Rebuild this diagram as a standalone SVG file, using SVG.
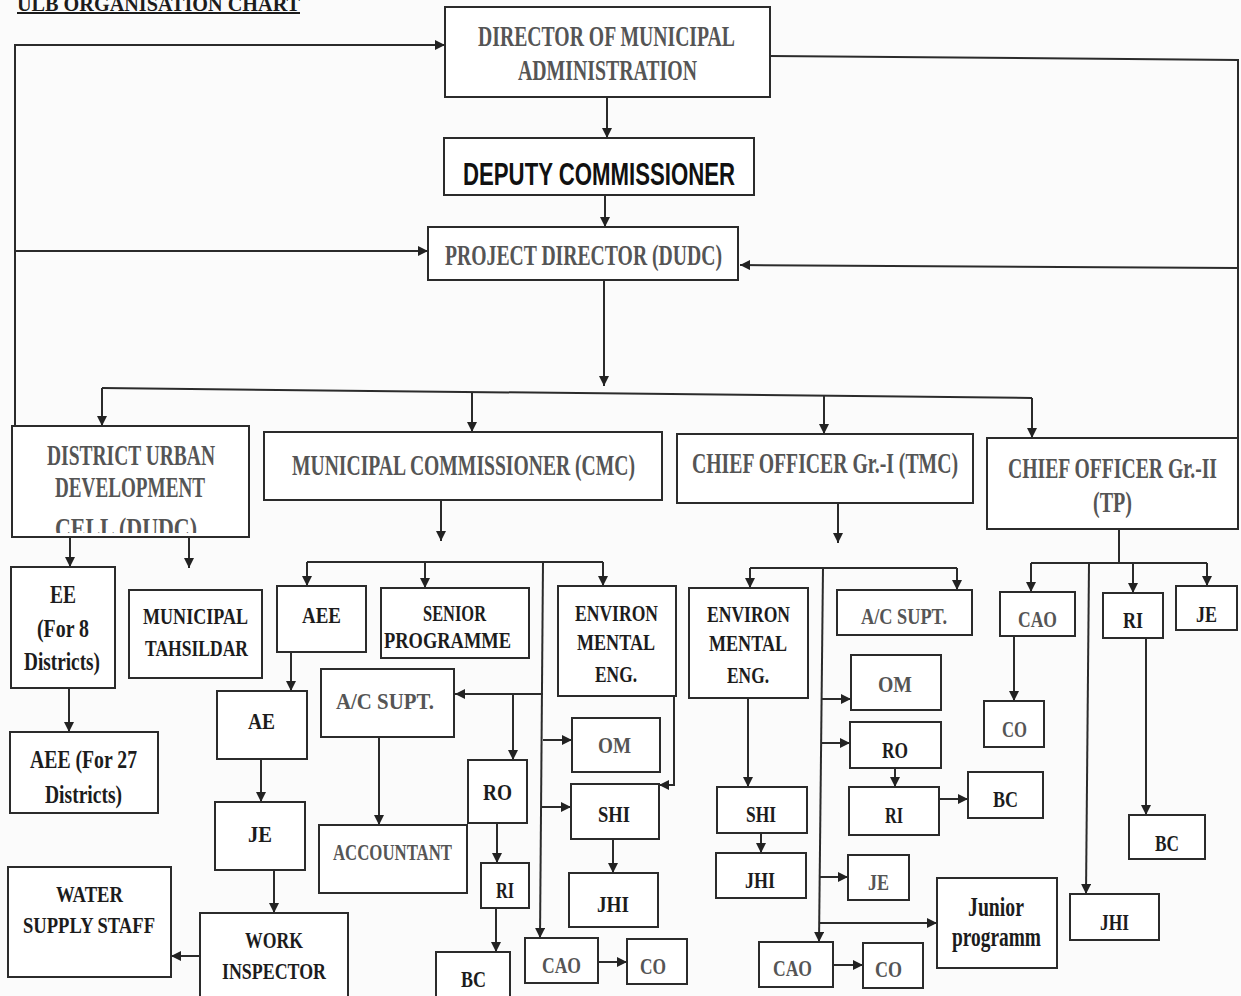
<svg xmlns="http://www.w3.org/2000/svg" width="1241" height="996" viewBox="0 0 1241 996">
<style>
.box{fill:#fff;stroke:#2b2b2b;stroke-width:2}
.c{fill:none;stroke:#2b2b2b;stroke-width:2}
.t{font-family:"Liberation Serif","Times New Roman",serif;font-weight:bold;font-size:24px;fill:#1c1c1c}
.h{font-size:29px}
.g{fill:#555}
.s{font-family:"Liberation Sans",Arial,sans-serif;font-weight:bold;font-size:31px;fill:#111}
</style>
<defs>
<marker id="ah" markerUnits="userSpaceOnUse" markerWidth="10" markerHeight="10" refX="10" refY="5" orient="auto">
<path d="M0,0 L10,5 L0,10 z" fill="#222"/>
</marker>
<clipPath id="dudcClip"><rect x="12" y="426" width="237" height="107"/></clipPath>
</defs>
<rect x="0" y="0" width="1241" height="996" fill="#fbfbfb"/>

<g id="title">
<text class="t" x="17" y="11" style="font-size:22px" textLength="283" lengthAdjust="spacingAndGlyphs">ULB ORGANISATION CHART</text>
<line x1="17" y1="13" x2="300" y2="13" stroke="#1c1c1c" stroke-width="2"/>
</g>

<g id="connectors">
<path class="c" d="M15,426 V45 H445" marker-end="url(#ah)"/>
<path class="c" d="M15,251 H428" marker-end="url(#ah)"/>
<path class="c" d="M770,56 L1238,60 V438"/>
<path class="c" d="M1238,268 L740,265" marker-end="url(#ah)"/>
<path class="c" d="M607,97 V138" marker-end="url(#ah)"/>
<path class="c" d="M605,165 V227" marker-end="url(#ah)"/>
<path class="c" d="M604,280 V386" marker-end="url(#ah)"/>
<path class="c" d="M102,388 L1032,398"/>
<path class="c" d="M102,388 V426" marker-end="url(#ah)"/>
<path class="c" d="M472,392 V432" marker-end="url(#ah)"/>
<path class="c" d="M824,396 V434" marker-end="url(#ah)"/>
<path class="c" d="M1032,398 V438" marker-end="url(#ah)"/>
<path class="c" d="M70,537 V567" marker-end="url(#ah)"/>
<path class="c" d="M189,537 V568" marker-end="url(#ah)"/>
<path class="c" d="M69,688 V732" marker-end="url(#ah)"/>
<path class="c" d="M441,500 V541" marker-end="url(#ah)"/>
<path class="c" d="M307,562 H603"/>
<path class="c" d="M307,562 V586" marker-end="url(#ah)"/>
<path class="c" d="M425,562 V588" marker-end="url(#ah)"/>
<path class="c" d="M603,562 V586" marker-end="url(#ah)"/>
<path class="c" d="M543,562 L540,938" marker-end="url(#ah)"/>
<path class="c" d="M543,694 H455" marker-end="url(#ah)"/>
<path class="c" d="M513,694 V760" marker-end="url(#ah)"/>
<path class="c" d="M543,740 H572" marker-end="url(#ah)"/>
<path class="c" d="M542,807 H571" marker-end="url(#ah)"/>
<path class="c" d="M674,696 V785 H659" marker-end="url(#ah)"/>
<path class="c" d="M379,737 V825" marker-end="url(#ah)"/>
<path class="c" d="M291,652 V691" marker-end="url(#ah)"/>
<path class="c" d="M261,759 V802" marker-end="url(#ah)"/>
<path class="c" d="M274,870 V913" marker-end="url(#ah)"/>
<path class="c" d="M200,956 H171" marker-end="url(#ah)"/>
<path class="c" d="M497,820 V863" marker-end="url(#ah)"/>
<path class="c" d="M496,908 V952" marker-end="url(#ah)"/>
<path class="c" d="M598,962 H627" marker-end="url(#ah)"/>
<path class="c" d="M613,830 V873" marker-end="url(#ah)"/>
<path class="c" d="M838,503 V543" marker-end="url(#ah)"/>
<path class="c" d="M750,568 H957"/>
<path class="c" d="M750,568 V588" marker-end="url(#ah)"/>
<path class="c" d="M957,568 V590" marker-end="url(#ah)"/>
<path class="c" d="M823,568 L819,942" marker-end="url(#ah)"/>
<path class="c" d="M822,699 H851" marker-end="url(#ah)"/>
<path class="c" d="M822,743 H850" marker-end="url(#ah)"/>
<path class="c" d="M820,877 H848" marker-end="url(#ah)"/>
<path class="c" d="M820,923 H937" marker-end="url(#ah)"/>
<path class="c" d="M748,698 V787" marker-end="url(#ah)"/>
<path class="c" d="M761,833 V853" marker-end="url(#ah)"/>
<path class="c" d="M895,768 V787" marker-end="url(#ah)"/>
<path class="c" d="M939,799 H968" marker-end="url(#ah)"/>
<path class="c" d="M833,965 H863" marker-end="url(#ah)"/>
<path class="c" d="M1119,529 V563"/>
<path class="c" d="M1031,563 H1207"/>
<path class="c" d="M1031,563 V592" marker-end="url(#ah)"/>
<path class="c" d="M1133,563 V593" marker-end="url(#ah)"/>
<path class="c" d="M1207,563 V586" marker-end="url(#ah)"/>
<path class="c" d="M1089,563 L1086,894" marker-end="url(#ah)"/>
<path class="c" d="M1014,636 V701" marker-end="url(#ah)"/>
<path class="c" d="M1146,638 V815" marker-end="url(#ah)"/>
</g>

<g id="director"><rect class="box" x="445" y="7" width="325" height="90"/>
<text class="t h g" x="478" y="46" textLength="257" lengthAdjust="spacingAndGlyphs">DIRECTOR OF MUNICIPAL</text>
<text class="t h g" x="518" y="80" textLength="179" lengthAdjust="spacingAndGlyphs">ADMINISTRATION</text></g>

<g id="deputy"><rect class="box" x="444" y="138" width="310" height="57"/>
<text class="s" x="463" y="185" textLength="272" lengthAdjust="spacingAndGlyphs">DEPUTY COMMISSIONER</text></g>

<g id="project-director"><rect class="box" x="428" y="227" width="310" height="53"/>
<text class="t h g" x="445" y="265" textLength="277" lengthAdjust="spacingAndGlyphs">PROJECT DIRECTOR (DUDC)</text></g>

<g id="dudc"><rect class="box" x="12" y="426" width="237" height="111"/>
<text class="t h g" x="47" y="465" textLength="168" lengthAdjust="spacingAndGlyphs">DISTRICT URBAN</text>
<text class="t h g" x="55" y="497" textLength="150" lengthAdjust="spacingAndGlyphs">DEVELOPMENT</text>
<text class="t h g" x="55" y="538" textLength="142" lengthAdjust="spacingAndGlyphs" clip-path="url(#dudcClip)">CELL (DUDC)</text></g>

<g id="mc"><rect class="box" x="264" y="432" width="398" height="68"/>
<text class="t h g" x="292" y="475" textLength="343" lengthAdjust="spacingAndGlyphs">MUNICIPAL COMMISSIONER (CMC)</text></g>

<g id="co1"><rect class="box" x="677" y="434" width="296" height="69"/>
<text class="t h g" x="692" y="473" textLength="266" lengthAdjust="spacingAndGlyphs">CHIEF OFFICER Gr.-I (TMC)</text></g>

<g id="co2"><rect class="box" x="987" y="438" width="251" height="91"/>
<text class="t h g" x="1008" y="478" textLength="209" lengthAdjust="spacingAndGlyphs">CHIEF OFFICER Gr.-II</text>
<text class="t h g" x="1093" y="512" textLength="39" lengthAdjust="spacingAndGlyphs">(TP)</text></g>

<g id="ee"><rect class="box" x="11" y="567" width="104" height="121"/>
<text class="t" style="font-size:26px" x="50" y="603" textLength="26" lengthAdjust="spacingAndGlyphs">EE</text>
<text class="t" style="font-size:26px" x="37" y="637" textLength="52" lengthAdjust="spacingAndGlyphs">(For 8</text>
<text class="t" style="font-size:26px" x="24" y="670" textLength="76" lengthAdjust="spacingAndGlyphs">Districts)</text></g>

<g id="tahsildar"><rect class="box" x="129" y="590" width="133" height="88"/>
<text class="t" x="143" y="624" textLength="105" lengthAdjust="spacingAndGlyphs">MUNICIPAL</text>
<text class="t" x="145" y="656" textLength="103" lengthAdjust="spacingAndGlyphs">TAHSILDAR</text></g>

<g id="aee27"><rect class="box" x="10" y="732" width="148" height="81"/>
<text class="t" style="font-size:26px" x="30" y="768" textLength="107" lengthAdjust="spacingAndGlyphs">AEE (For 27</text>
<text class="t" style="font-size:26px" x="45" y="803" textLength="77" lengthAdjust="spacingAndGlyphs">Districts)</text></g>

<g id="aee"><rect class="box" x="277" y="586" width="89" height="66"/>
<text class="t" x="302" y="623" textLength="39" lengthAdjust="spacingAndGlyphs">AEE</text></g>

<g id="senior-programme"><rect class="box" x="381" y="588" width="148" height="70"/>
<text class="t" x="423" y="621" textLength="63" lengthAdjust="spacingAndGlyphs">SENIOR</text>
<text class="t" x="384" y="648" textLength="127" lengthAdjust="spacingAndGlyphs">PROGRAMME</text></g>

<g id="env-mc"><rect class="box" x="558" y="586" width="118" height="110"/>
<text class="t" x="575" y="621" textLength="83" lengthAdjust="spacingAndGlyphs">ENVIRON</text>
<text class="t" x="577" y="650" textLength="78" lengthAdjust="spacingAndGlyphs">MENTAL</text>
<text class="t" x="595" y="682" textLength="42" lengthAdjust="spacingAndGlyphs">ENG.</text></g>

<g id="acsupt-mc"><rect class="box" x="321" y="669" width="133" height="68"/>
<text class="t g" x="336" y="709" textLength="98" lengthAdjust="spacingAndGlyphs">A/C SUPT.</text></g>

<g id="ae"><rect class="box" x="217" y="691" width="90" height="68"/>
<text class="t" x="248" y="729" textLength="27" lengthAdjust="spacingAndGlyphs">AE</text></g>

<g id="je-mc"><rect class="box" x="215" y="802" width="90" height="68"/>
<text class="t" x="248" y="842" textLength="24" lengthAdjust="spacingAndGlyphs">JE</text></g>

<g id="work-inspector"><rect class="box" x="200" y="913" width="148" height="86"/>
<text class="t" x="245" y="948" textLength="58" lengthAdjust="spacingAndGlyphs">WORK</text>
<text class="t" x="222" y="979" textLength="104" lengthAdjust="spacingAndGlyphs">INSPECTOR</text></g>

<g id="water-supply"><rect class="box" x="8" y="867" width="163" height="110"/>
<text class="t" x="56" y="902" textLength="67" lengthAdjust="spacingAndGlyphs">WATER</text>
<text class="t" x="23" y="933" textLength="132" lengthAdjust="spacingAndGlyphs">SUPPLY STAFF</text></g>

<g id="accountant"><rect class="box" x="319" y="825" width="148" height="68"/>
<text class="t g" x="333" y="860" textLength="119" lengthAdjust="spacingAndGlyphs">ACCOUNTANT</text></g>

<g id="ro-mc"><rect class="box" x="468" y="760" width="59" height="63"/>
<text class="t" x="483" y="800" textLength="29" lengthAdjust="spacingAndGlyphs">RO</text></g>

<g id="ri-mc"><rect class="box" x="481" y="863" width="48" height="45"/>
<text class="t" x="496" y="898" textLength="18" lengthAdjust="spacingAndGlyphs">RI</text></g>

<g id="bc-mc"><rect class="box" x="436" y="952" width="74" height="46"/>
<text class="t" x="461" y="987" textLength="25" lengthAdjust="spacingAndGlyphs">BC</text></g>

<g id="cao-mc"><rect class="box" x="525" y="938" width="73" height="45"/>
<text class="t g" x="542" y="973" textLength="39" lengthAdjust="spacingAndGlyphs">CAO</text></g>

<g id="co-mc"><rect class="box" x="627" y="939" width="60" height="45"/>
<text class="t g" x="640" y="974" textLength="26" lengthAdjust="spacingAndGlyphs">CO</text></g>

<g id="om-mc"><rect class="box" x="572" y="718" width="88" height="54"/>
<text class="t g" x="598" y="753" textLength="33" lengthAdjust="spacingAndGlyphs">OM</text></g>

<g id="shi-mc"><rect class="box" x="571" y="784" width="88" height="55"/>
<text class="t" x="598" y="822" textLength="32" lengthAdjust="spacingAndGlyphs">SHI</text></g>

<g id="jhi-mc"><rect class="box" x="569" y="873" width="89" height="54"/>
<text class="t" x="597" y="912" textLength="32" lengthAdjust="spacingAndGlyphs">JHI</text></g>

<g id="env-co"><rect class="box" x="689" y="588" width="119" height="110"/>
<text class="t" x="707" y="622" textLength="83" lengthAdjust="spacingAndGlyphs">ENVIRON</text>
<text class="t" x="709" y="651" textLength="78" lengthAdjust="spacingAndGlyphs">MENTAL</text>
<text class="t" x="727" y="683" textLength="42" lengthAdjust="spacingAndGlyphs">ENG.</text></g>

<g id="shi-co"><rect class="box" x="717" y="787" width="90" height="46"/>
<text class="t" x="746" y="822" textLength="30" lengthAdjust="spacingAndGlyphs">SHI</text></g>

<g id="jhi-co"><rect class="box" x="716" y="853" width="90" height="45"/>
<text class="t" x="745" y="888" textLength="30" lengthAdjust="spacingAndGlyphs">JHI</text></g>

<g id="acsupt-co"><rect class="box" x="837" y="590" width="135" height="45"/>
<text class="t g" x="861" y="624" textLength="86" lengthAdjust="spacingAndGlyphs">A/C SUPT.</text></g>

<g id="om-co"><rect class="box" x="851" y="655" width="90" height="55"/>
<text class="t g" x="878" y="692" textLength="34" lengthAdjust="spacingAndGlyphs">OM</text></g>

<g id="ro-co"><rect class="box" x="850" y="722" width="91" height="46"/>
<text class="t" x="882" y="758" textLength="26" lengthAdjust="spacingAndGlyphs">RO</text></g>

<g id="ri-co"><rect class="box" x="849" y="787" width="90" height="48"/>
<text class="t" x="885" y="823" textLength="18" lengthAdjust="spacingAndGlyphs">RI</text></g>

<g id="bc-co"><rect class="box" x="968" y="772" width="75" height="46"/>
<text class="t" x="993" y="807" textLength="25" lengthAdjust="spacingAndGlyphs">BC</text></g>

<g id="je-co"><rect class="box" x="848" y="855" width="61" height="45"/>
<text class="t g" x="868" y="890" textLength="21" lengthAdjust="spacingAndGlyphs">JE</text></g>

<g id="junior-programm"><rect class="box" x="937" y="878" width="120" height="90"/>
<text class="t" style="font-size:27px" x="968" y="916" textLength="56" lengthAdjust="spacingAndGlyphs">Junior</text>
<text class="t" style="font-size:27px" x="952" y="946" textLength="89" lengthAdjust="spacingAndGlyphs">programm</text></g>

<g id="cao-co"><rect class="box" x="759" y="942" width="74" height="45"/>
<text class="t g" x="773" y="976" textLength="39" lengthAdjust="spacingAndGlyphs">CAO</text></g>

<g id="co-co"><rect class="box" x="863" y="943" width="60" height="45"/>
<text class="t g" x="875" y="977" textLength="27" lengthAdjust="spacingAndGlyphs">CO</text></g>

<g id="cao-tp"><rect class="box" x="1000" y="592" width="75" height="44"/>
<text class="t g" x="1018" y="627" textLength="39" lengthAdjust="spacingAndGlyphs">CAO</text></g>

<g id="co-tp"><rect class="box" x="984" y="701" width="60" height="46"/>
<text class="t g" x="1002" y="737" textLength="25" lengthAdjust="spacingAndGlyphs">CO</text></g>

<g id="ri-tp"><rect class="box" x="1103" y="593" width="60" height="45"/>
<text class="t" x="1123" y="628" textLength="20" lengthAdjust="spacingAndGlyphs">RI</text></g>

<g id="je-tp"><rect class="box" x="1176" y="586" width="61" height="44"/>
<text class="t" x="1196" y="622" textLength="21" lengthAdjust="spacingAndGlyphs">JE</text></g>

<g id="bc-tp"><rect class="box" x="1129" y="815" width="76" height="44"/>
<text class="t" x="1155" y="851" textLength="24" lengthAdjust="spacingAndGlyphs">BC</text></g>

<g id="jhi-tp"><rect class="box" x="1070" y="894" width="89" height="46"/>
<text class="t" x="1100" y="930" textLength="29" lengthAdjust="spacingAndGlyphs">JHI</text></g>
</svg>
